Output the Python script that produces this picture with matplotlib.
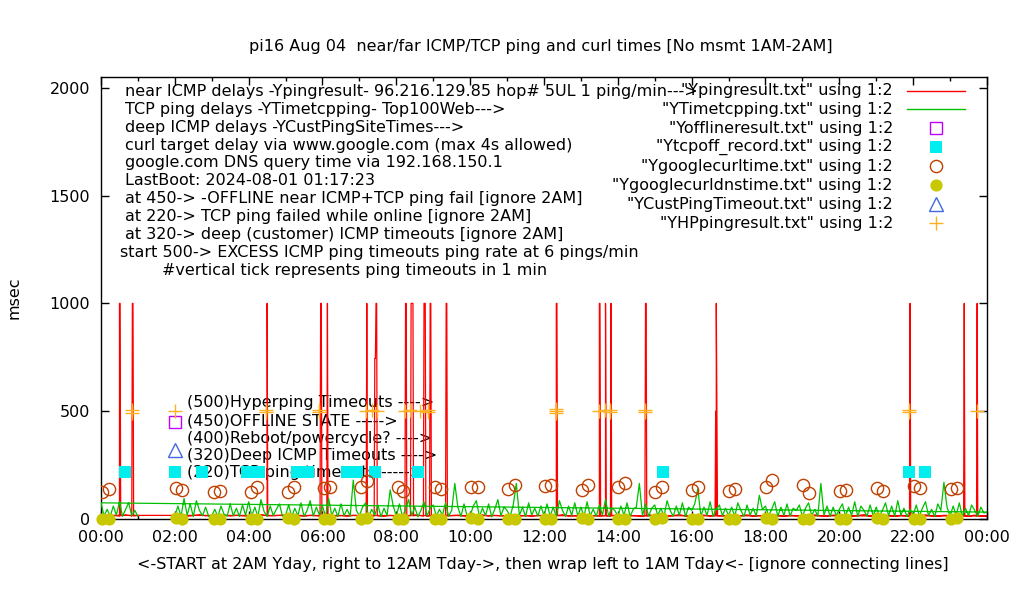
import numpy as np
import matplotlib
matplotlib.use("Agg")
import matplotlib.pyplot as plt
from matplotlib.lines import Line2D

plt.rcParams['font.family'] = ['DejaVu Sans']
FS = 11.5

# ---------------- data ----------------
title = "pi16 Aug 04  near/far ICMP/TCP ping and curl times [No msmt 1AM-2AM]"
xlabel = "<-START at 2AM Yday, right to 12AM Tday->, then wrap left to 1AM Tday<- [ignore connecting lines]"
ylabel = "msec"
x_tick_hours = [0, 2, 4, 6, 8, 10, 12, 14, 16, 18, 20, 22, 24]
x_tick_labels = ["00:00", "02:00", "04:00", "06:00", "08:00", "10:00", "12:00",
                 "14:00", "16:00", "18:00", "20:00", "22:00", "00:00"]
y_ticks = [0, 500, 1000, 1500, 2000]

# TCP ping delays (ms), 5-minute samples; segment A 02:00 -> 24:00, segment B 00:00 -> 01:00
tcp_seg_a = [
    14, 60, 12, 95, 18, 70, 11, 85, 40, 15, 55, 12,
    16, 45, 10, 60, 22, 13, 70, 15, 50, 12, 65, 17,
    80, 14, 55, 11, 90, 35, 12, 60, 16, 45, 70, 13,
    18, 65, 11, 50, 15, 75, 12, 40, 85, 14, 55, 19,
    60, 12, 95, 17, 50, 11, 70, 15, 45, 13, 180, 40,
    15, 55, 75, 12, 45, 18, 65, 11, 50, 16, 135, 60,
    13, 70, 12, 45, 90, 16, 55, 10, 40, 80, 14, 50,
    65, 12, 45, 18, 75, 13, 40, 165, 55, 11, 70, 15,
    14, 60, 85, 12, 50, 17, 70, 10, 45, 90, 15, 55,
    40, 12, 65, 165, 16, 55, 11, 75, 18, 50, 13, 60,
    15, 70, 13, 55, 10, 85, 40, 12, 60, 17, 75, 14,
    55, 11, 80, 16, 45, 12, 65, 18, 90, 13, 50, 40,
    14, 60, 17, 75, 11, 45, 55, 165, 15, 70, 12, 50,
    65, 16, 50, 12, 85, 40, 13, 60, 18, 75, 11, 55,
    40, 70, 140, 14, 55, 17, 80, 12, 45, 65, 15, 50,
    16, 55, 12, 75, 40, 11, 65, 18, 50, 13, 110, 45,
    60, 14, 45, 80, 12, 55, 17, 70, 13, 50, 40, 65,
    11, 50, 75, 16, 45, 13, 165, 18, 60, 12, 55, 15,
    45, 70, 14, 55, 17, 80, 11, 60, 40, 13, 65, 16,
    55, 12, 40, 75, 15, 60, 13, 85, 18, 50, 11, 45,
    17, 65, 13, 50, 80, 16, 45, 11, 70, 40, 170, 55,
    14, 60, 18, 75, 12, 50, 16, 65, 40, 13, 55, 28,
    32]
tcp_seg_b = [75, 14, 45, 12, 60, 18, 80, 13, 45, 75, 15, 40, 12]

# near ICMP delays (ms), 10-minute samples, same two segments
icmp_seg_a = [
    14, 17, 13, 16, 19, 15,
    16, 13, 18, 14, 17, 15,
    13, 16, 20, 14, 15, 17,
    18, 14, 16, 13, 17, 15,
    15, 19, 14, 16, 13, 17,
    16, 14, 18, 15, 13, 17,
    14, 17, 15, 19, 16, 13,
    17, 15, 13, 16, 18, 14,
    13, 16, 19, 14, 17, 15,
    15, 18, 14, 16, 13, 17,
    16, 13, 17, 20, 14, 15,
    14, 17, 15, 13, 18, 16,
    18, 14, 16, 15, 13, 19,
    15, 17, 13, 16, 20, 14,
    13, 16, 18, 14, 17, 15,
    17, 14, 15, 19, 13, 16,
    14, 18, 16, 13, 17, 15,
    16, 13, 19, 15, 14, 18,
    15, 17, 14, 16, 20, 13,
    18, 14, 16, 13, 17, 15,
    13, 16, 19, 15, 14, 17,
    16, 14, 17, 13, 18, 15,
    14]
icmp_seg_b = [17, 14, 16, 13, 18, 15, 16]

# ping timeouts (value 1000) with the neighbouring one-minute samples
icmp_timeouts_b = [("00:29", 14), ("00:30", 1000), ("00:31", 1000), ("00:32", 15),
                   ("00:50", 13), ("00:51", 1000), ("00:52", 1000), ("00:53", 14)]
icmp_timeouts_a = [
    ("04:29", 16), ("04:30", 1000), ("04:31", 15),
    ("05:56", 14), ("05:57", 1000), ("05:58", 1000), ("05:59", 16),
    ("06:07", 15), ("06:08", 1000), ("06:09", 14),
    ("07:11", 16), ("07:12", 1000), ("07:13", 15),
    ("07:24", 14), ("07:25", 745), ("07:26", 745), ("07:27", 1000), ("07:28", 1000), ("07:29", 17),
    ("08:14", 15), ("08:15", 1000), ("08:16", 1000), ("08:17", 14),
    ("08:23", 16), ("08:24", 1000), ("08:25", 1000), ("08:26", 1000), ("08:27", 1000), ("08:28", 15),
    ("08:44", 14), ("08:45", 1000), ("08:46", 1000), ("08:47", 1000), ("08:48", 16),
    ("08:54", 15), ("08:55", 1000), ("08:56", 1000), ("08:57", 14),
    ("09:20", 16), ("09:21", 1000), ("09:22", 1000), ("09:23", 15),
    ("12:19", 14), ("12:20", 1000), ("12:21", 1000), ("12:22", 16),
    ("13:29", 15), ("13:30", 1000), ("13:31", 1000), ("13:32", 14),
    ("13:39", 16), ("13:40", 1000), ("13:41", 15),
    ("13:48", 14), ("13:49", 1000), ("13:50", 16),
    ("14:44", 15), ("14:45", 1000), ("14:46", 1000), ("14:47", 14),
    ("16:38", 16), ("16:39", 500), ("16:40", 1000), ("16:41", 500), ("16:42", 15),
    ("21:54", 14), ("21:55", 1000), ("21:56", 15),
    ("23:22", 16), ("23:23", 1000), ("23:24", 14),
    ("23:43", 15), ("23:44", 1000), ("23:45", 16)]

# offline state markers (450)
offline_times = ["02:00"]
offline_vals = [450]
# TCP ping failed while online (220)
tcpoff_times = ["00:39", "02:00", "02:44", "03:57", "04:16", "05:19", "05:37",
                "06:40", "06:56", "07:25", "08:36", "15:14", "21:54", "22:20"]
tcpoff_vals = [220] * 14
# curl time to www.google.com (ms)
curl_times = ["00:02", "00:13", "02:02", "02:12", "03:04", "03:13", "04:04", "04:13",
              "05:04", "05:13", "06:02", "06:13", "07:02", "07:13", "08:02", "08:11",
              "09:03", "09:12", "10:02", "10:12", "11:02", "11:13", "12:02", "12:11",
              "13:02", "13:12", "14:01", "14:11", "15:01", "15:12", "16:01", "16:11",
              "17:01", "17:11", "18:01", "18:11", "19:01", "19:11", "20:01", "20:11",
              "21:02", "21:11", "22:01", "22:11", "23:01", "23:11"]
curl_vals = [127, 138, 142, 135, 125, 131, 125, 149, 125, 149, 145, 149, 149, 178, 150, 130,
             150, 138, 149, 149, 139, 159, 152, 158, 135, 156, 150, 166, 124, 147, 135, 147,
             128, 138, 147, 180, 158, 122, 128, 133, 142, 128, 152, 142, 138, 142]
# DNS query time (ms)
dns_vals = [2, 1, 3, 2, 1, 2, 2, 1, 3, 2, 1, 2, 2, 3, 1, 2, 2, 1, 3, 2, 1, 2, 2, 1,
            3, 2, 1, 2, 2, 3, 1, 2, 2, 1, 3, 2, 1, 2, 2, 1, 3, 2, 1, 2, 2, 3]
# deep ICMP (customer) timeouts
custto_times = ["02:00"]
custto_vals = [320]
# hyperping timeouts
hp_times = ["00:51", "00:51", "02:00", "04:28", "04:28", "05:54", "05:54",
            "07:10", "07:20", "07:29", "08:14", "08:22", "08:38", "08:52", "08:52",
            "12:20", "12:20", "12:20", "13:30", "13:39", "13:47", "13:47", "14:44", "14:44",
            "21:54", "21:54", "23:43"]
hp_vals = [492, 505, 500, 498, 506, 494, 504,
           500, 505, 500, 500, 505, 500, 496, 506,
           490, 500, 510, 500, 505, 494, 504, 496, 506,
           496, 506, 500]

info_lines = [
    "near ICMP delays -Ypingresult- 96.216.129.85 hop# 5UL 1 ping/min--->",
    "TCP ping delays -YTimetcpping- Top100Web--->",
    "deep ICMP delays -YCustPingSiteTimes--->",
    "curl target delay via www.google.com (max 4s allowed)",
    "google.com DNS query time via 192.168.150.1",
    "LastBoot: 2024-08-01 01:17:23",
    "at 450-> -OFFLINE near ICMP+TCP ping fail [ignore 2AM]",
    "at 220-> TCP ping failed while online [ignore 2AM]",
    "at 320-> deep (customer) ICMP timeouts [ignore 2AM]",
    "start 500-> EXCESS ICMP ping timeouts ping rate at 6 pings/min",
    "#vertical tick represents ping timeouts in 1 min",
]
marker_labels = [
    "(500)Hyperping Timeouts ---->",
    "(450)OFFLINE STATE ----->",
    "(400)Reboot/powercycle? ---->",
    "(320)Deep ICMP Timeouts ---->",
    "(220)TCP ping timeouts ----->",
]
key_labels = ['"Ypingresult.txt" using 1:2', '"YTimetcpping.txt" using 1:2',
              '"Yofflineresult.txt" using 1:2', '"Ytcpoff_record.txt" using 1:2',
              '"Ygooglecurltime.txt" using 1:2', '"Ygooglecurldnstime.txt" using 1:2',
              '"YCustPingTimeout.txt" using 1:2', '"YHPpingresult.txt" using 1:2']


def hours(t):
    h, m = t.split(":")
    return int(h) + int(m) / 60.0


def merged(grid_start, step_min, base_vals, extra):
    t = [grid_start + i * step_min / 60.0 for i in range(len(base_vals))]
    pts = list(zip(t, base_vals)) + [(hours(a), b) for a, b in extra]
    pts.sort(key=lambda p: p[0])
    return [p[0] for p in pts], [p[1] for p in pts]


# file order: segment A (2AM .. midnight) then segment B (0:00 .. 1AM)
ta, va = merged(2.0, 5, tcp_seg_a, [])
tb, vb = merged(0.0, 5, tcp_seg_b, [])
tcp_t, tcp_v = ta + tb, va + vb
ia_t, ia_v = merged(2.0, 10, icmp_seg_a, icmp_timeouts_a)
ib_t, ib_v = merged(0.0, 10, icmp_seg_b, icmp_timeouts_b)
icmp_t, icmp_v = ia_t + ib_t, ia_v + ib_v

RED = "#ff0000"
GREEN = "#00c000"
MAGENTA = "#c000ff"
CYAN = "#00eeee"
BROWN = "#c04000"
OLIVE = "#c8c800"
BLUE = "#4169e1"
ORANGE = "#ffb020"

# ---------------- figure ----------------
W, H = 1020, 600
fig = plt.figure(figsize=(W / 100, H / 100), dpi=100)
L, R, T, B = 101, 987, 77, 519
ax = fig.add_axes([L / W, 1 - B / H, (R - L) / W, (B - T) / H])
ax.set_xlim(0, 24)
ax.set_ylim(0, 2050)


def afx(px):
    return (px - L) / (R - L)


def afy(py):
    return (B - py) / (B - T)


# text labels (behind the data)
info_x = [125] * 9 + [120, 162]
for i, s in enumerate(info_lines):
    ax.text(afx(info_x[i]), afy(91.5 + i * 17.85), s, transform=ax.transAxes,
            ha="left", va="center", fontsize=FS, zorder=1)
for i, s in enumerate(marker_labels):
    ax.text(afx(187), afy(403 + i * 17.5), s, transform=ax.transAxes,
            ha="left", va="center", fontsize=FS, zorder=1)

# data
ax.plot(icmp_t, icmp_v, color=RED, lw=0.9, zorder=2)
ax.plot(tcp_t, tcp_v, color=GREEN, lw=0.9, zorder=3)
ax.plot([hours(t) for t in offline_times], offline_vals, ls="none", marker="s", ms=8.5,
        mfc="none", mec=MAGENTA, mew=1.0, zorder=4)
ax.plot([hours(t) for t in tcpoff_times], tcpoff_vals, ls="none", marker="s", ms=9.2,
        mfc=CYAN, mec=CYAN, mew=0, zorder=4)
ax.plot([hours(t) for t in curl_times], curl_vals, ls="none", marker="o", ms=8.8,
        mfc="none", mec=BROWN, mew=1.0, zorder=5)
ax.plot([hours(t) for t in curl_times], dns_vals, ls="none", marker="o", ms=8.8,
        mfc=OLIVE, mec=OLIVE, mew=0, zorder=5, clip_on=False)
ax.plot([hours(t) for t in custto_times], custto_vals, ls="none", marker="^", ms=10,
        mfc="none", mec=BLUE, mew=1.0, zorder=6)
ax.plot([hours(t) for t in hp_times], hp_vals, ls="none", marker="+", ms=9.5,
        mec=ORANGE, mew=1.0, zorder=7)

# key (top right, text right-aligned then sample)
key_styles = [
    dict(color=RED, lw=1.0),
    dict(color=GREEN, lw=1.0),
    dict(ls="none", marker="s", ms=8.5, mfc="none", mec=MAGENTA, mew=1.0),
    dict(ls="none", marker="s", ms=9.2, mfc=CYAN, mec=CYAN, mew=0),
    dict(ls="none", marker="o", ms=8.8, mfc="none", mec=BROWN, mew=1.0),
    dict(ls="none", marker="o", ms=8.8, mfc=OLIVE, mec=OLIVE, mew=0),
    dict(ls="none", marker="^", ms=10, mfc="none", mec=BLUE, mew=1.0),
    dict(ls="none", marker="+", ms=9.5, mec=ORANGE, mew=1.0),
]
for i, (lab, st) in enumerate(zip(key_labels, key_styles)):
    y = afy(90.5 + i * 18.95)
    ax.text(afx(893), y, lab, transform=ax.transAxes, ha="right", va="center",
            fontsize=FS, zorder=8)
    if "marker" in st:
        ln = Line2D([afx(936)], [y], transform=ax.transAxes, **st)
    else:
        ln = Line2D([afx(907), afx(965)], [y, y], transform=ax.transAxes, **st)
    ax.add_line(ln)

# axes styling
ax.set_xticks(x_tick_hours)
ax.set_xticklabels(x_tick_labels)
ax.set_xticks([h + 1 for h in x_tick_hours[:-1]], minor=True)
ax.set_yticks(y_ticks)
ax.tick_params(which="both", direction="in", top=True, right=True, labelsize=FS,
               width=1.0, color="black")
ax.tick_params(which="major", length=6)
ax.tick_params(which="minor", length=3)
ax.tick_params(axis="x", pad=8)
ax.tick_params(axis="y", pad=8)
for sp in ax.spines.values():
    sp.set_linewidth(1.0)

fig.text(541 / W, 1 - 46 / H, title, ha="center", va="center", fontsize=FS)
fig.text(543 / W, 1 - 565 / H, xlabel, ha="center", va="center", fontsize=FS)
fig.text(14 / W, 1 - 298 / H, ylabel, ha="center", va="center", rotation=90, fontsize=FS)

fig.savefig("out.png", dpi=100, facecolor="white")
